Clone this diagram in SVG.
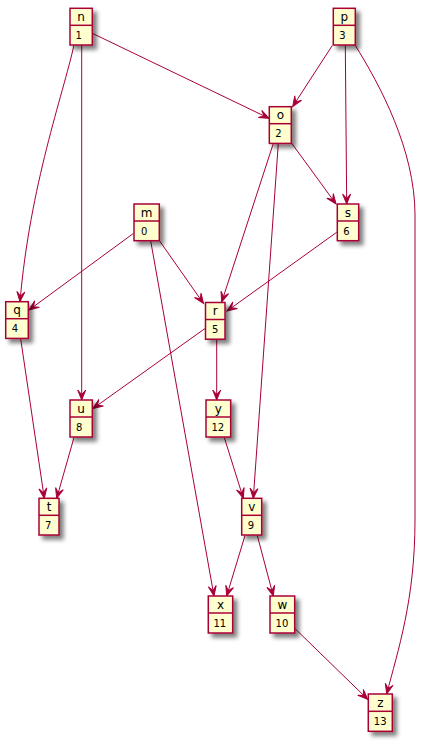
<svg xmlns="http://www.w3.org/2000/svg" width="426" height="741" viewBox="0 0 426 741">
<style>
.box{fill:#FEFECE;stroke:#A80036;stroke-width:1.5;filter:url(#sh)}
.div{stroke:#A80036;stroke-width:1.5}
.nm{font-family:"DejaVu Sans",sans-serif;font-size:12px;fill:#000;text-anchor:middle}
.fd{font-family:"DejaVu Sans",sans-serif;font-size:10px;fill:#000}
.e{fill:none;stroke:#A80036;stroke-width:1;marker-end:url(#ar)}
</style>
<defs>
<filter id="sh" x="-1" y="-1" width="3" height="3">
<feGaussianBlur in="SourceAlpha" stdDeviation="2" result="b"/>
<feColorMatrix in="b" type="matrix" values="0 0 0 0 0  0 0 0 0 0  0 0 0 0 0  0 0 0 0.5 0" result="c"/>
<feOffset in="c" dx="4" dy="4" result="o"/>
<feMerge><feMergeNode in="o"/><feMergeNode in="SourceGraphic"/></feMerge>
</filter>
<marker id="ar" markerUnits="userSpaceOnUse" markerWidth="12" markerHeight="10" refX="10" refY="4" orient="auto" overflow="visible">
<path d="M0,0 L10,4 L0,8 L4.5,4 Z" fill="#A80036" stroke="#A80036" stroke-width="1"/>
</marker>
</defs>
<rect width="426" height="741" fill="#FFFFFF"/>
<g id="edges">
<path class="e" d="M92.3,33.3 L269,118.3"/>
<path class="e" d="M74,45 C63,95 30,185 20,301.7"/>
<path class="e" d="M81.7,45 L81.7,400"/>
<path class="e" d="M332.3,45.5 L292.7,106.5"/>
<path class="e" d="M345.3,45 L346.7,204"/>
<path class="e" d="M355,45 C380,85 415,150 415,215 L415,520 C415,600 398,650 386.7,694"/>
<path class="e" d="M291.5,143 L336,204"/>
<path class="e" d="M273.3,143.5 L221.7,302"/>
<path class="e" d="M278.3,143.5 L253.3,498.3"/>
<path class="e" d="M133.3,233.5 L29,310"/>
<path class="e" d="M159.3,240.5 L203.5,303.5"/>
<path class="e" d="M150.7,241 L214,596"/>
<path class="e" d="M336.7,232.3 L227,311"/>
<path class="e" d="M205,328.5 L93,408.5"/>
<path class="e" d="M216.7,339.5 L216.7,400"/>
<path class="e" d="M20.7,339 L44.3,498.3"/>
<path class="e" d="M74,437.5 L56.7,498.3"/>
<path class="e" d="M224.3,437.5 L243.3,498.3"/>
<path class="e" d="M245,535.5 L226.7,596"/>
<path class="e" d="M257.3,535.5 L273.3,596"/>
<path class="e" d="M294.7,628.3 L367.7,699.3"/>
</g>
<g id="n"><rect class="box" x="70" y="8.3" width="22.3" height="36.7"/><line class="div" x1="70" y1="25.3" x2="92.3" y2="25.3"/><text class="nm" x="81.15" y="21">n</text><text class="fd" x="75.5" y="38.8">1</text></g>
<g id="p"><rect class="box" x="333.3" y="8.3" width="22" height="36.7"/><line class="div" x1="333.3" y1="25.3" x2="355.3" y2="25.3"/><text class="nm" x="344.3" y="21">p</text><text class="fd" x="339.3" y="38.8">3</text></g>
<g id="o"><rect class="box" x="269.3" y="106.7" width="22" height="36.7"/><line class="div" x1="269.3" y1="123.7" x2="291.3" y2="123.7"/><text class="nm" x="280.3" y="119.4">o</text><text class="fd" x="275.3" y="137.2">2</text></g>
<g id="m"><rect class="box" x="134" y="204" width="25.3" height="36.7"/><line class="div" x1="134" y1="221" x2="159.3" y2="221"/><text class="nm" x="146.65" y="216.7">m</text><text class="fd" x="141" y="234.5">0</text></g>
<g id="s"><rect class="box" x="337.3" y="204" width="21.4" height="36.7"/><line class="div" x1="337.3" y1="221" x2="358.7" y2="221"/><text class="nm" x="348" y="216.7">s</text><text class="fd" x="343.3" y="234.5">6</text></g>
<g id="q"><rect class="box" x="5.7" y="301.7" width="22.6" height="36.7"/><line class="div" x1="5.7" y1="318.7" x2="28.3" y2="318.7"/><text class="nm" x="17" y="314.4">q</text><text class="fd" x="11.7" y="332.2">4</text></g>
<g id="r"><rect class="box" x="205.5" y="302.5" width="19.5" height="36.7"/><line class="div" x1="205.5" y1="319.5" x2="225" y2="319.5"/><text class="nm" x="215.25" y="315.2">r</text><text class="fd" x="212" y="333">5</text></g>
<g id="u"><rect class="box" x="70" y="400" width="22.3" height="37"/><line class="div" x1="70" y1="417" x2="92.3" y2="417"/><text class="nm" x="81.15" y="412.7">u</text><text class="fd" x="76" y="430.5">8</text></g>
<g id="y"><rect class="box" x="206" y="400" width="24.7" height="37"/><line class="div" x1="206" y1="417" x2="230.7" y2="417"/><text class="nm" x="218.35" y="412.7">y</text><text class="fd" x="211.5" y="430.5">12</text></g>
<g id="t"><rect class="box" x="39" y="498.3" width="20" height="36.7"/><line class="div" x1="39" y1="515.3" x2="59" y2="515.3"/><text class="nm" x="49" y="511">t</text><text class="fd" x="45" y="528.8">7</text></g>
<g id="v"><rect class="box" x="241.7" y="498.3" width="20" height="36.7"/><line class="div" x1="241.7" y1="515.3" x2="261.7" y2="515.3"/><text class="nm" x="251.7" y="511">v</text><text class="fd" x="247.7" y="528.8">9</text></g>
<g id="x"><rect class="box" x="208.3" y="596" width="24.4" height="37"/><line class="div" x1="208.3" y1="613" x2="232.7" y2="613"/><text class="nm" x="220.5" y="608.7">x</text><text class="fd" x="213.5" y="626.5">11</text></g>
<g id="w"><rect class="box" x="270" y="596" width="24.7" height="37"/><line class="div" x1="270" y1="613" x2="294.7" y2="613"/><text class="nm" x="282.35" y="608.7">w</text><text class="fd" x="275.6" y="626.5">10</text></g>
<g id="z"><rect class="box" x="368.3" y="694" width="24" height="37.3"/><line class="div" x1="368.3" y1="711.3" x2="392.3" y2="711.3"/><text class="nm" x="380.3" y="706.7">z</text><text class="fd" x="373.8" y="724.5">13</text></g>
</svg>
